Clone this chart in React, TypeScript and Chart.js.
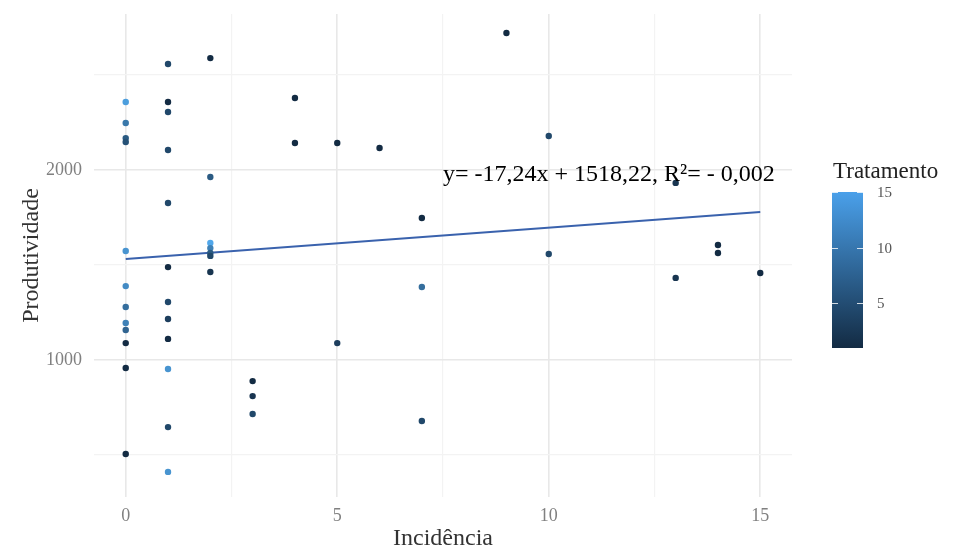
import React, { useEffect, useRef } from "react";
import { Chart, registerables } from "chart.js";

Chart.register(...registerables);

// ---- data ----
const incidencia = [
  0, 0, 0, 0, 0, 0, 0, 0, 0, 0, 0, 0,
  1, 1, 1, 1, 1, 1, 1, 1, 1, 1, 1, 1,
  2, 2, 2, 2, 2, 2, 2,
  3, 3, 3,
  4, 4,
  5, 5,
  6,
  7, 7, 7,
  9,
  10, 10,
  13, 13,
  14, 14,
  15,
];
const produtividade = [
  2358, 2247, 2168, 2147, 1574, 1389, 1279, 1195, 1158, 1089, 958, 505,
  2558, 2358, 2305, 2105, 1826, 1489, 1305, 1216, 1111, 953, 647, 411,
  2589, 1963, 1616, 1589, 1563, 1548, 1463,
  889, 810, 716,
  2379, 2142,
  2142, 1089,
  2116,
  1747, 1384, 679,
  2721,
  2179, 1558,
  1932, 1432,
  1605, 1563,
  1458,
];
const tratamento = [
  13, 9, 6, 5, 12, 11, 8, 10, 7, 1, 1, 1,
  4, 1, 4, 4, 4, 1, 4, 3, 1, 12, 4, 12,
  1, 6, 14, 10, 6, 4, 2,
  1, 2, 4,
  1, 1,
  1, 3,
  1,
  1, 8, 4,
  1,
  4, 4,
  2, 2,
  1, 1,
  1,
];
// fitted line (as drawn) at x = 0 and x = 15
const trendX = [0, 15];
const trendY = [1532, 1779];

const xTicks = [0, 2.5, 5, 7.5, 10, 12.5, 15];
const xMajor = [0, 5, 10, 15];
const yTicks = [500, 1000, 1500, 2000, 2500];
const yMajor = [1000, 2000];
const legendTicks = [5, 10, 15];
const tratMin = 1;
const tratMax = 15;

const equationText = "y= -17,24x + 1518,22, R²= - 0,002";
const equationX = 11.42;
const equationY = 1975;

const SERIF = "'Liberation Serif', 'Times New Roman', serif";
const LOW = [19, 43, 67];
const HIGH = [86, 177, 247];

function colorFor(v: number): string {
  const t = Math.max(0, Math.min(1, (v - tratMin) / (tratMax - tratMin)));
  const c = LOW.map((l, i) => Math.round(l + (HIGH[i] - l) * t));
  return `rgb(${c[0]},${c[1]},${c[2]})`;
}

const annotationPlugin = {
  id: "equation",
  afterDatasetsDraw(chart: any) {
    const { ctx, scales } = chart;
    const px = scales.x.getPixelForValue(equationX);
    const py = scales.y.getPixelForValue(equationY);
    ctx.save();
    ctx.font = `24px ${SERIF}`;
    ctx.fillStyle = "#000";
    ctx.textAlign = "center";
    ctx.textBaseline = "middle";
    ctx.fillText(equationText, px, py);
    ctx.restore();
  },
};

const colorbarPlugin = {
  id: "colorbar",
  afterDraw(chart: any) {
    const { ctx, chartArea } = chart;
    const left = chartArea.right + 40;
    const w = 31;
    const top = 192;
    const bottom = 348;
    const v2y = (v: number) => bottom - ((v - tratMin) / (tratMax - tratMin)) * (bottom - top);
    ctx.save();
    const g = ctx.createLinearGradient(0, bottom, 0, top);
    g.addColorStop(0, "#132B43");
    g.addColorStop(1, "#4aa0ea");
    ctx.fillStyle = g;
    ctx.fillRect(left, top, w, bottom - top);
    ctx.strokeStyle = "rgba(255,255,255,0.8)";
    ctx.lineWidth = 1;
    ctx.font = `15px ${SERIF}`;
    ctx.fillStyle = "#555";
    ctx.textAlign = "left";
    ctx.textBaseline = "middle";
    legendTicks.forEach((v) => {
      const y = Math.round(v2y(v)) + 0.5;
      ctx.beginPath();
      ctx.moveTo(left, y);
      ctx.lineTo(left + 6, y);
      ctx.moveTo(left + w - 6, y);
      ctx.lineTo(left + w, y);
      ctx.stroke();
      ctx.fillText(String(v), left + w + 14, y + 1);
    });
    ctx.font = `23px ${SERIF}`;
    ctx.fillStyle = "#222";
    ctx.fillText("Tratamento", left + 1, 172);
    ctx.restore();
  },
};

export default function App() {
  const ref = useRef<HTMLCanvasElement>(null);
  useEffect(() => {
    if (!ref.current) return;
    const points = incidencia.map((x, i) => ({ x, y: produtividade[i] }));
    const chart = new Chart(ref.current, {
      type: "scatter",
      data: {
        datasets: [
          {
            type: "scatter",
            data: points,
            pointRadius: 3.2,
            pointHoverRadius: 3.2,
            pointBorderWidth: 0,
            pointBackgroundColor: tratamento.map(colorFor),
            pointBorderColor: tratamento.map(colorFor),
          },
          {
            type: "line",
            data: trendX.map((x, i) => ({ x, y: trendY[i] })),
            borderColor: "#3a62ad",
            borderWidth: 2,
            pointRadius: 0,
            fill: false,
          } as any,
        ],
      },
      options: {
        animation: false,
        responsive: false,
        devicePixelRatio: 1,
        layout: { padding: { top: 14, right: 161, left: 0, bottom: 0 } },
        plugins: { legend: { display: false }, tooltip: { enabled: false } },
        scales: {
          x: {
            type: "linear",
            min: -0.75,
            max: 15.75,
            afterBuildTicks: (s: any) => {
              s.ticks = xTicks.map((v) => ({ value: v }));
            },
            afterFit: (s: any) => {
              s.height = 54;
              s.paddingLeft = 0;
              s.paddingRight = 0;
            },
            border: { display: false },
            grid: {
              drawTicks: false,
              color: (c: any) => (c.tick && xMajor.includes(c.tick.value) ? "#e8e8e8" : "#f3f3f3"),
              lineWidth: (c: any) => (c.tick && xMajor.includes(c.tick.value) ? 1.6 : 1.2),
            },
            ticks: {
              autoSkip: false,
              maxRotation: 0,
              padding: 8,
              color: "#808080",
              font: { family: SERIF, size: 18 },
              callback: (v: any) => (xMajor.includes(Number(v)) ? String(v) : ""),
            },
            title: {
              display: true,
              text: "Incidência",
              color: "#333",
              font: { family: SERIF, size: 24, lineHeight: 1 },
              padding: { top: 0, bottom: 0 },
            },
          },
          y: {
            type: "linear",
            min: 279,
            max: 2821,
            afterBuildTicks: (s: any) => {
              s.ticks = yTicks.map((v) => ({ value: v }));
            },
            afterFit: (s: any) => {
              s.width = 94;
              s.paddingTop = 0;
              s.paddingBottom = 0;
            },
            border: { display: false },
            grid: {
              drawTicks: false,
              color: (c: any) => (c.tick && yMajor.includes(c.tick.value) ? "#e8e8e8" : "#f3f3f3"),
              lineWidth: (c: any) => (c.tick && yMajor.includes(c.tick.value) ? 1.6 : 1.2),
            },
            ticks: {
              autoSkip: false,
              padding: 12,
              color: "#808080",
              font: { family: SERIF, size: 18 },
              callback: (v: any) => (yMajor.includes(Number(v)) ? String(v) : ""),
            },
            title: {
              display: true,
              text: "Produtividade",
              color: "#333",
              font: { family: SERIF, size: 24, lineHeight: 1 },
              padding: { top: 20, bottom: 0 },
            },
          },
        },
      },
      plugins: [annotationPlugin, colorbarPlugin],
    });
    return () => chart.destroy();
  }, []);
  return (
    <div style={{ position: "absolute", left: 0, top: 0, width: 953, height: 551, background: "#fff" }}>
      <canvas ref={ref} width={953} height={551} style={{ display: "block" }} />
    </div>
  );
}
